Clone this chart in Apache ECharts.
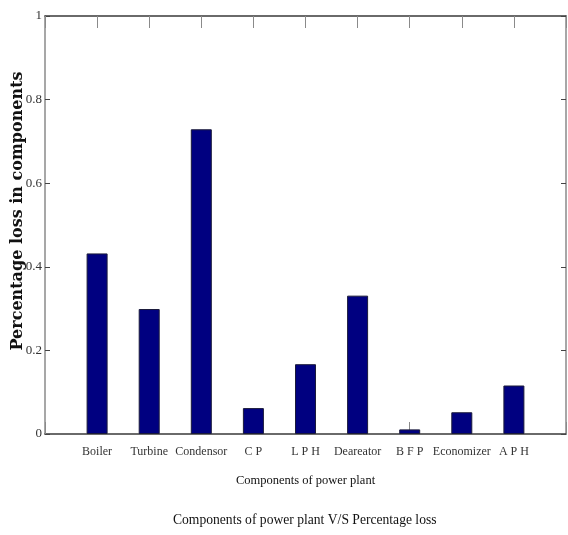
<!DOCTYPE html>
<html>
<head>
<meta charset="utf-8">
<script src="https://cdn.jsdelivr.net/npm/echarts@6/dist/echarts.min.js"></script>
<style>
  html, body { margin: 0; padding: 0; background: #fff; }
  #chart { width: 568px; height: 535px; }
</style>
</head>
<body>
<div id="chart"></div>
<script>
// components and their percentage loss
var components = ['Boiler', 'Turbine', 'Condensor', 'C P', 'L P H', 'Deareator', 'B F P', 'Economizer', 'A P H'];
var lossValues = [0.432, 0.299, 0.729, 0.062, 0.167, 0.331, 0.011, 0.052, 0.116];
var yTicks = [0, 0.2, 0.4, 0.6, 0.8, 1];

// matlab style axis: one empty slot each side (xlim 0..10)
var xCats = [''].concat(components).concat(['']);
var barData = [null].concat(lossValues).concat([null]);

var serif = '"Liberation Serif", "Times New Roman", serif';
var boxDark = '#3a3a3a';
var boxLight = '#8a8a8a';

var chart = echarts.init(document.getElementById('chart'));
chart.setOption({
    animation: false,
    title: {
        text: 'Components of power plant V/S Percentage loss',
        left: 168,
        bottom: 3,
        textStyle: { fontFamily: serif, fontWeight: 'normal', fontSize: 13.6, color: '#111' }
    },
    grid: { left: 45, right: 2, top: 16, bottom: 101, containLabel: false, outerBoundsMode: 'none' },
    xAxis: [{
        type: 'category',
        data: xCats,
        boundaryGap: false,
        position: 'bottom',
        name: 'Components of power plant',
        nameLocation: 'middle',
        nameGap: 40,
        nameTextStyle: { fontFamily: serif, fontSize: 12.5, color: '#111' },
        axisLine: { onZero: false, lineStyle: { color: boxDark, width: 1.5 } },
        axisTick: { inside: true, interval: 0, length: 12, lineStyle: { color: boxLight } },
        axisLabel: { interval: 0, fontFamily: serif, fontSize: 12, color: '#333', margin: 12 },
        splitLine: { show: false }
    }, {
        type: 'category',
        data: xCats,
        boundaryGap: false,
        position: 'top',
        axisLine: { onZero: false, lineStyle: { color: boxDark, width: 1.5 } },
        axisTick: { inside: true, interval: 0, length: 12, lineStyle: { color: boxLight } },
        axisLabel: { show: false },
        splitLine: { show: false }
    }],
    yAxis: [{
        type: 'value',
        min: yTicks[0],
        max: yTicks[yTicks.length - 1],
        interval: 0.2,
        position: 'left',
        name: 'Percentage loss in components',
        nameLocation: 'middle',
        nameGap: 19,
        nameMoveOverlap: false,
        nameTextStyle: { fontFamily: '"DejaVu Serif", serif', fontWeight: 'bold', fontSize: 16, color: '#111', padding: [0, 0, 0, 28] },
        axisLine: { show: true, onZero: false, lineStyle: { color: boxLight, width: 1.5 } },
        axisTick: { show: true, inside: true, length: 5, lineStyle: { color: '#444' } },
        axisLabel: { fontFamily: serif, fontSize: 13, color: '#333', margin: 3 },
        splitLine: { show: false }
    }, {
        type: 'value',
        min: yTicks[0],
        max: yTicks[yTicks.length - 1],
        interval: 0.2,
        position: 'right',
        axisLine: { show: true, onZero: false, lineStyle: { color: boxLight, width: 1.5 } },
        axisTick: { show: true, inside: true, length: 5, lineStyle: { color: '#444' } },
        axisLabel: { show: false },
        splitLine: { show: false }
    }],
    series: [{
        type: 'bar',
        data: barData,
        barWidth: 21,
        itemStyle: { color: '#000080', borderColor: '#1a1a3a', borderWidth: 1 }
    }]
});
</script>
</body>
</html>
